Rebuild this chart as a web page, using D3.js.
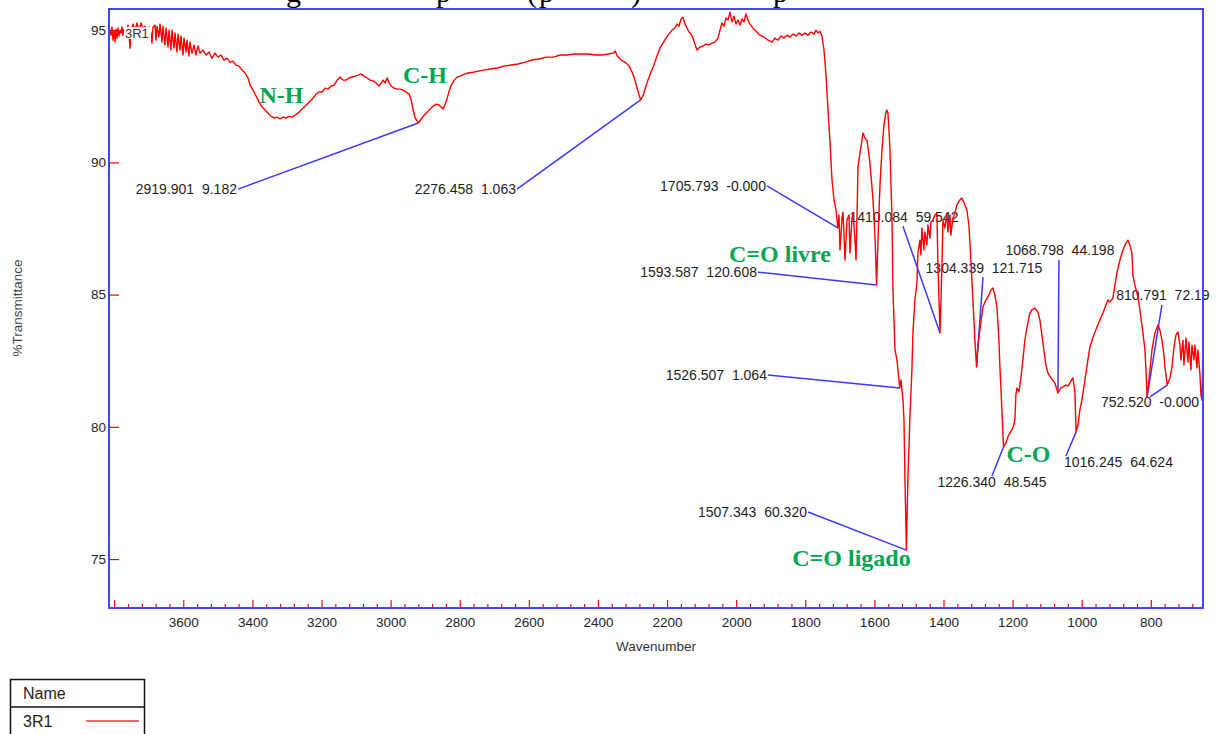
<!DOCTYPE html>
<html>
<head>
<meta charset="utf-8">
<script src="https://cdn.jsdelivr.net/npm/d3@7"></script>
<style>
  body { margin: 0; background: #fff; }
  svg { display: block; }
  text { font-family: "Liberation Sans", Arial, sans-serif; }
</style>
</head>
<body>
<svg id="chart" width="1216" height="734"></svg>
<script>
// FTIR spectrum of sample 3R1: wavenumber (cm-1) and %Transmittance
const wavenumber = [
  3813.5,3809.2,3806.3,3803.4,3800.5,3797.6,3794.7,3791.8,3788.9,3786.0,3783.1,3780.2,3777.4,3774.5,3771.6,3765.8,3760.0,3757.1,3754.2,3751.3,
  3745.5,3739.7,3734.0,3728.2,3722.4,3716.6,3710.8,3705.0,3699.2,3693.4,3690.5,3687.6,3681.9,3679.0,3676.1,3670.3,3667.4,3661.6,3658.7,3652.9,
  3650.0,3644.2,3641.3,3635.6,3632.7,3626.9,3624.0,3618.2,3615.3,3609.5,3606.6,3600.8,3597.9,3592.2,3589.3,3583.5,3580.6,3574.8,3569.0,3563.2,
  3557.4,3551.6,3542.9,3534.2,3525.5,3516.9,3508.2,3499.5,3490.8,3482.1,3473.4,3464.7,3456.0,3447.4,3438.7,3430.0,3421.3,3412.6,3406.8,3398.1,
  3389.4,3380.7,3372.0,3363.3,3354.7,3346.0,3337.3,3328.6,3319.9,3311.2,3302.5,3293.8,3285.2,3276.5,3267.8,3259.1,3250.4,3241.7,3233.0,3224.3,
  3215.7,3207.0,3198.3,3189.6,3180.9,3172.2,3163.5,3154.8,3146.2,3137.5,3128.8,3120.1,3111.4,3102.7,3094.0,3085.3,3076.7,3068.0,3059.3,3050.6,
  3041.9,3033.2,3027.4,3021.6,3015.8,3010.1,3004.3,2998.5,2989.8,2981.1,2972.4,2963.7,2955.0,2946.3,2940.5,2934.8,2929.0,2919.901,2911.6,2902.9,
  2894.2,2885.5,2876.8,2868.1,2859.4,2853.7,2847.9,2842.1,2836.3,2830.5,2824.7,2816.0,2807.3,2798.6,2787.0,2775.5,2761.0,2746.5,2732.1,2711.8,
  2691.6,2671.3,2651.1,2630.8,2610.6,2590.3,2570.1,2549.8,2529.5,2509.3,2489.0,2468.8,2448.5,2428.3,2408.0,2387.8,2370.4,2355.9,2350.1,2344.3,
  2332.8,2321.2,2309.6,2300.9,2292.2,2283.6,2276.458,2269.7,2261.1,2255.3,2246.6,2237.9,2229.2,2220.5,2211.8,2203.1,2194.5,2185.8,2177.1,2171.3,
  2165.5,2159.7,2153.9,2148.1,2142.3,2136.6,2130.8,2125.0,2119.2,2113.4,2104.7,2096.0,2087.3,2078.7,2070.0,2061.3,2052.6,2046.8,2041.0,2035.2,
  2029.4,2023.6,2017.9,2012.1,2006.3,2000.5,1994.7,1988.9,1983.1,1977.3,1971.6,1965.8,1960.0,1951.3,1942.6,1931.0,1919.5,1907.9,1896.3,1887.6,
  1879.0,1870.3,1861.6,1852.9,1844.2,1835.5,1826.8,1818.2,1809.5,1800.8,1792.1,1783.4,1774.7,1768.9,1763.1,1757.4,1751.6,1745.8,1740.0,1734.2,
  1728.4,1722.6,1716.8,1711.1,1705.793,1702.4,1699.5,1693.7,1690.8,1685.0,1679.3,1673.5,1670.6,1664.8,1661.9,1656.1,1653.2,1650.3,1647.4,1641.7,
  1635.9,1633.0,1627.2,1621.4,1615.6,1609.8,1604.0,1598.3,1593.587,1589.6,1583.8,1578.0,1572.3,1566.5,1563.6,1560.7,1557.8,1554.9,1552.0,1549.1,
  1546.2,1540.4,1534.6,1526.507,1523.1,1517.3,1514.4,1511.5,1507.343,1503.0,1500.1,1497.2,1491.4,1488.5,1482.7,1476.9,1474.0,1468.2,1465.3,1462.5,
  1456.7,1453.8,1448.0,1445.1,1439.3,1436.4,1430.6,1424.8,1419.0,1416.2,1410.084,1404.6,1401.7,1395.9,1390.1,1387.2,1381.5,1378.6,1372.8,1367.0,
  1361.2,1352.5,1346.7,1338.0,1332.3,1326.5,1320.7,1314.9,1309.1,1304.339,1300.4,1294.6,1285.9,1277.2,1271.4,1262.8,1257.0,1251.2,1245.4,1239.6,
  1236.7,1230.9,1226.340,1219.4,1213.6,1207.9,1199.2,1193.4,1190.5,1187.6,1181.8,1176.0,1170.2,1164.4,1158.6,1150.0,1144.2,1135.5,1126.8,1121.0,
  1115.2,1109.4,1103.6,1097.8,1089.1,1077.6,1068.798,1060.2,1054.4,1045.7,1039.9,1031.2,1025.5,1019.7,1016.245,1011.0,1005.2,999.4,990.7,982.0,
  976.3,964.7,956.0,947.3,938.6,929.9,924.1,918.4,909.7,903.9,898.1,889.4,883.6,874.9,866.2,860.5,854.7,851.8,846.0,837.3,
  831.5,822.8,817.0,814.1,810.791,802.5,796.7,788.1,779.4,773.6,767.8,762.0,759.1,752.520,744.6,738.8,733.0,727.3,721.5,715.7,
  712.8,707.0,704.1,698.3,692.5,689.6,683.8,680.9,675.1,672.2,666.5,663.6,657.8,654.9,652.0,649.1
];
const transmittance = [
  95.08,94.81,95.12,94.62,95.00,94.55,95.04,94.70,95.08,94.78,95.00,94.89,95.12,94.81,95.04,94.96,95.19,94.81,94.32,94.89,
  95.23,95.00,95.27,95.00,95.27,95.08,95.15,94.96,95.12,94.89,94.51,95.12,95.19,94.62,95.15,94.74,95.23,94.55,95.15,94.44,
  95.08,94.36,95.00,94.25,95.00,94.32,94.89,94.17,94.85,94.25,94.78,94.06,94.70,94.17,94.62,94.02,94.55,94.13,94.44,94.06,
  94.40,94.13,94.25,94.06,94.17,93.94,94.13,93.98,94.06,93.87,93.94,93.79,93.83,93.68,93.64,93.49,93.38,93.19,92.92,92.73,
  92.51,92.28,92.09,91.98,91.86,91.74,91.68,91.71,91.64,91.71,91.68,91.74,91.71,91.79,91.86,91.98,92.09,92.20,92.32,92.43,
  92.58,92.66,92.66,92.81,92.77,92.89,92.92,93.11,93.23,93.11,93.11,93.19,93.23,93.26,93.30,93.34,93.26,93.19,93.11,93.08,
  93.00,92.89,93.00,93.11,93.00,93.19,93.00,92.89,92.81,92.77,92.77,92.73,92.66,92.58,92.36,91.98,91.68,91.49,91.64,91.79,
  91.90,92.02,92.13,92.20,92.17,92.09,92.02,92.20,92.43,92.70,92.92,93.11,93.23,93.26,93.34,93.38,93.41,93.45,93.49,93.53,
  93.57,93.64,93.68,93.72,93.79,93.87,93.91,93.98,93.98,94.06,94.06,94.10,94.10,94.10,94.06,94.06,94.10,94.13,94.21,94.02,
  93.87,93.79,93.64,93.41,93.08,92.66,92.36,92.51,92.89,93.11,93.41,93.68,94.02,94.32,94.51,94.70,94.85,95.00,95.08,95.23,
  95.15,95.42,95.49,95.23,95.08,94.93,94.85,94.70,94.47,94.25,94.36,94.40,94.47,94.44,94.51,94.55,94.70,95.00,95.27,95.15,
  95.46,95.38,95.68,95.31,95.53,95.23,95.38,95.19,95.42,95.31,95.61,95.38,95.23,95.08,94.96,94.81,94.74,94.62,94.55,94.70,
  94.62,94.78,94.70,94.81,94.74,94.85,94.78,94.89,94.81,94.89,94.81,94.93,94.85,95.00,94.89,94.96,94.78,94.25,93.30,91.98,
  90.73,89.33,88.58,88.20,87.52,88.01,86.69,87.89,88.12,86.31,87.82,88.01,86.57,87.89,88.08,87.06,86.31,87.93,89.82,90.35,
  90.84,91.11,90.92,90.84,90.28,89.52,88.58,87.25,85.36,87.06,89.14,90.47,91.41,91.90,91.98,91.86,91.22,90.47,89.14,87.93,
  85.17,82.91,82.53,81.47,81.77,81.01,80.26,77.99,75.34,78.10,79.12,80.37,82.15,83.55,84.80,85.44,86.57,87.06,86.50,87.52,
  86.69,87.37,86.87,87.63,87.14,87.74,87.82,88.01,88.08,86.12,83.55,86.04,87.82,87.52,88.08,87.37,88.01,87.25,87.89,88.08,
  88.39,88.58,88.65,88.39,88.20,87.63,86.31,84.80,83.28,82.26,83.09,83.66,84.53,84.80,84.91,85.17,85.25,84.98,84.53,83.28,
  82.26,80.64,79.24,79.39,79.62,79.77,79.96,80.26,81.20,81.47,81.32,81.85,82.53,83.28,83.74,84.30,84.42,84.49,84.34,84.04,
  83.47,82.91,82.34,82.04,81.85,81.66,81.28,81.47,81.51,81.58,81.54,81.73,81.85,81.32,79.81,80.07,80.64,81.01,81.77,82.53,
  83.02,83.47,83.77,84.04,84.30,84.61,84.80,84.72,84.87,85.36,85.82,86.31,86.57,86.87,87.06,86.87,86.57,85.74,85.36,84.91,
  84.42,83.55,82.91,82.15,81.13,82.15,82.91,83.55,83.85,83.66,83.28,82.72,82.26,81.58,81.85,82.26,83.02,83.47,83.59,83.09,
  82.53,83.28,82.34,83.36,82.45,83.21,82.15,83.09,82.53,83.09,82.23,82.91,81.96,81.20,81.01,83.28
];

// Peak-pick results: position and the readout printed next to it
const peakWavenumbers = [2919.901, 2276.458, 1705.793, 1593.587, 1526.507, 1507.343, 1410.084, 1304.339, 1226.340, 1068.798, 1016.245, 810.791, 752.520];
const peakReadouts    = ["9.182", "1.063", "-0.000", "120.608", "1.064", "60.320", "59.542", "121.715", "48.545", "44.198", "64.624", "72.19", "-0.000"];

// Band assignments
const bandNames       = ["N-H", "C-H", "C=O livre", "C=O ligado", "C-O"];

const majorTicksX = [3800, 3600, 3400, 3200, 3000, 2800, 2600, 2400, 2200, 2000, 1800, 1600, 1400, 1200, 1000, 800];
const minorTicksX = [3760, 3720, 3680, 3640, 3560, 3520, 3480, 3440, 3360, 3320, 3280, 3240, 3160, 3120, 3080, 3040,
  2960, 2920, 2880, 2840, 2760, 2720, 2680, 2640, 2560, 2520, 2480, 2440, 2360, 2320, 2280, 2240, 2160, 2120, 2080, 2040,
  1960, 1920, 1880, 1840, 1760, 1720, 1680, 1640, 1560, 1520, 1480, 1440, 1360, 1320, 1280, 1240, 1160, 1120, 1080, 1040,
  960, 920, 880, 840, 760, 720, 680];
const ticksY = [75, 80, 85, 90, 95];

// ---- layout (placement of callouts, in data coordinates) ----
const leaderFrom = [[3441.7, 88.99], [2634.3, 88.99], [1910.9, 89.11], [1936.9, 85.85], [1908.0, 81.96], [1792.2, 76.78],
  [1517.3, 87.59], [1285.8, 85.66], [1259.7, 78.14], [1065.9, 86.31], [1045.6, 78.90], [767.8, 84.61], [802.5, 81.13]];
const leaderSide = ["left", "left", "left", "left", "left", "left", "above", "above", "below", "above", "belowStart", "above", "below"];
const bandLabelAt = [[3315.8, 92.24], [2900.5, 93.00], [1873.2, 86.23], [1666.3, 74.74], [1154.1, 78.67]];

const svg = d3.select("#chart");
const plot = { left: 109, right: 1203, top: 9, bottom: 608 };

const x = d3.scaleLinear().domain([3815, 649]).range([plot.left, plot.right]);
const y = d3.scaleLinear().domain([73.15, 95.80]).range([plot.bottom, plot.top]);

const RED = "#ff0000", BLUE = "#3a3aff", GREEN = "#00a651", INK = "#1e1e1e";

// caption line above the plot (only its lowest strokes fall inside the page)
const captionGlyphs = [["g", 286], ["p", 436], ["(", 527], ["p", 539], [")", 631], ["p", 773]];
svg.append("g").selectAll("text").data(captionGlyphs).join("text")
  .attr("x", d => d[1]).attr("y", 1.5)
  .style("font-family", "'Liberation Serif', 'Times New Roman', serif")
  .style("font-size", "30px").attr("fill", "#000")
  .text(d => d[0]);

svg.append("defs").append("clipPath").attr("id", "plotClip")
  .append("rect").attr("x", plot.left).attr("y", plot.top)
  .attr("width", plot.right - plot.left).attr("height", plot.bottom - plot.top);

// ---- axes ----
const xMajor = svg.append("g").attr("transform", `translate(0,${plot.bottom})`)
  .call(d3.axisBottom(x).tickValues(majorTicksX).tickSizeInner(-8).tickSizeOuter(0).tickPadding(9)
    .tickFormat(d => d === 3800 ? "" : d3.format("d")(d)));
const xMinor = svg.append("g").attr("transform", `translate(0,${plot.bottom})`)
  .call(d3.axisBottom(x).tickValues(minorTicksX).tickSizeInner(-4).tickSizeOuter(0).tickFormat(""));
const yAxis = svg.append("g").attr("transform", `translate(${plot.left},0)`)
  .call(d3.axisLeft(y).tickValues(ticksY).tickSizeInner(-10).tickSizeOuter(0).tickPadding(3).tickFormat(d3.format("d")));

[xMajor, xMinor, yAxis].forEach(g => {
  g.select(".domain").remove();
  g.selectAll(".tick line").attr("stroke", RED).attr("stroke-width", 1.2);
  g.selectAll(".tick text").attr("fill", INK).style("font-size", "13.5px")
    .style("font-family", "'Liberation Sans', Arial, sans-serif");
});

svg.append("text").attr("x", 656).attr("y", 651).attr("text-anchor", "middle")
  .attr("fill", "#333").style("font-size", "13.5px").text("Wavenumber");
svg.append("text").attr("transform", "translate(22,308) rotate(-90)").attr("text-anchor", "middle")
  .attr("fill", "#444").style("font-size", "13.5px").text("%Transmittance");

// ---- peak callouts (drawn under the spectrum) ----
const peakT = peakWavenumbers.map(w => transmittance[wavenumber.indexOf(w)]);
const callouts = svg.append("g");
peakWavenumbers.forEach((w, i) => {
  const [fw, ft] = leaderFrom[i];
  const sx = x(fw), sy = y(ft);
  callouts.append("line")
    .attr("x1", sx).attr("y1", sy).attr("x2", x(w)).attr("y2", y(peakT[i]))
    .attr("stroke", BLUE).attr("stroke-width", 1.5);
  const side = leaderSide[i];
  let tx = sx, ty = sy, anchor = "middle";
  if (side === "left") { tx = sx - 1; ty = sy + 5; anchor = "end"; }
  else if (side === "above") { tx = sx + 1; ty = sy - 4.5; }
  else if (side === "below") { ty = sy + 10.5; }
  else { tx = sx - 2; ty = sy + 11; anchor = "start"; }
  callouts.append("text")
    .attr("x", tx).attr("y", ty).attr("text-anchor", anchor)
    .attr("fill", INK).style("font-size", "14px").style("white-space", "pre")
    .text(d3.format(".3f")(w) + "  " + peakReadouts[i]);
});

// ---- spectrum ----
const line = d3.line().x(d => x(d[0])).y(d => y(d[1]));
svg.append("path")
  .datum(wavenumber.map((w, i) => [w, transmittance[i]]))
  .attr("clip-path", "url(#plotClip)")
  .attr("d", line).attr("fill", "none")
  .attr("stroke", RED).attr("stroke-width", 1.4).attr("stroke-linejoin", "round");

// spectrum name tag over the trace
svg.append("rect").attr("x", 124).attr("y", 27).attr("width", 27).attr("height", 12).attr("fill", "#fff");
svg.append("text").attr("x", 125).attr("y", 37.5).attr("fill", "#333").style("font-size", "13px").text("3R1");

// ---- band assignments ----
svg.append("g").selectAll("text").data(bandNames).join("text")
  .attr("x", (d, i) => x(bandLabelAt[i][0])).attr("y", (d, i) => y(bandLabelAt[i][1]))
  .attr("text-anchor", "middle").attr("fill", GREEN)
  .style("font-family", "'Liberation Serif', 'Times New Roman', serif")
  .style("font-weight", "bold").style("font-size", "24px")
  .text(d => d);

// ---- frame ----
svg.append("rect").attr("x", plot.left).attr("y", plot.top)
  .attr("width", plot.right - plot.left).attr("height", plot.bottom - plot.top)
  .attr("fill", "none").attr("stroke", "#4444ff").attr("stroke-width", 2);

// ---- legend table ----
const legend = svg.append("g");
legend.append("rect").attr("x", 10.5).attr("y", 679.5).attr("width", 134).attr("height", 70)
  .attr("fill", "#fff").attr("stroke", "#111").attr("stroke-width", 1.5);
legend.append("line").attr("x1", 10.5).attr("x2", 144.5).attr("y1", 707).attr("y2", 707)
  .attr("stroke", "#111").attr("stroke-width", 1.5);
legend.append("text").attr("x", 23).attr("y", 699).attr("fill", INK).style("font-size", "16px").text("Name");
legend.append("text").attr("x", 23).attr("y", 727).attr("fill", INK).style("font-size", "16px").text("3R1");
legend.append("line").attr("x1", 86).attr("x2", 139).attr("y1", 721).attr("y2", 721)
  .attr("stroke", "#ff3030").attr("stroke-width", 1.5);
</script>
</body>
</html>
